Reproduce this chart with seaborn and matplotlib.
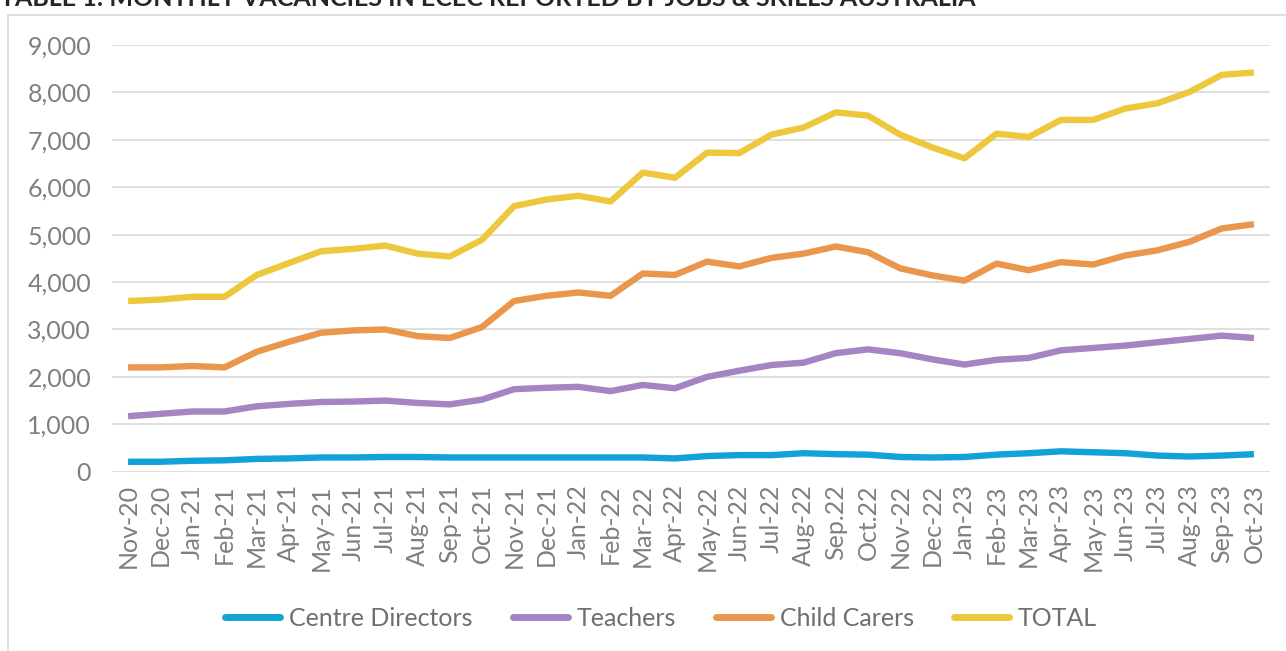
import matplotlib
matplotlib.use("Agg")
import matplotlib.pyplot as plt
from matplotlib.lines import Line2D
from matplotlib.patches import Rectangle
import seaborn as sns
import pandas as pd

# ---------------- data ----------------
months = ["Nov-20", "Dec-20", "Jan-21", "Feb-21", "Mar-21", "Apr-21", "May-21", "Jun-21",
          "Jul-21", "Aug-21", "Sep-21", "Oct-21", "Nov-21", "Dec-21", "Jan-22", "Feb-22",
          "Mar-22", "Apr-22", "May-22", "Jun-22", "Jul-22", "Aug-22", "Sep.22", "Oct.22",
          "Nov-22", "Dec-22", "Jan-23", "Feb-23", "Mar-23", "Apr-23", "May-23", "Jun-23",
          "Jul-23", "Aug-23", "Sep-23", "Oct-23"]

centre_directors = [210, 210, 230, 240, 270, 280, 300, 300, 310, 310, 300, 300,
                    300, 300, 300, 300, 300, 280, 330, 350, 350, 390, 370, 360,
                    310, 300, 310, 360, 390, 430, 410, 390, 340, 320, 340, 370]

teachers = [1170, 1220, 1270, 1270, 1380, 1430, 1470, 1480, 1500, 1450, 1420, 1520,
            1740, 1770, 1790, 1700, 1830, 1760, 2000, 2130, 2250, 2300, 2500, 2580,
            2500, 2370, 2260, 2360, 2400, 2560, 2610, 2660, 2730, 2800, 2870, 2820]

child_carers = [2200, 2200, 2230, 2200, 2530, 2740, 2930, 2980, 3000, 2860, 2820, 3050,
                3600, 3710, 3780, 3710, 4180, 4150, 4430, 4330, 4510, 4600, 4750, 4630,
                4290, 4140, 4030, 4390, 4250, 4420, 4370, 4560, 4670, 4850, 5130, 5220]

total = [3600, 3630, 3690, 3690, 4150, 4400, 4650, 4700, 4770, 4600, 4540, 4890,
         5600, 5740, 5820, 5700, 6310, 6200, 6730, 6720, 7110, 7260, 7580, 7510,
         7110, 6840, 6610, 7130, 7060, 7420, 7420, 7660, 7770, 8010, 8370, 8420]

series_names = ["Centre Directors", "Teachers", "Child Carers", "TOTAL"]
series_colors = ["#12a2d8", "#a484c2", "#ea964c", "#edc83d"]
y_ticks = [0, 1000, 2000, 3000, 4000, 5000, 6000, 7000, 8000, 9000]
title = "TABLE 1: MONTHLY VACANCIES IN ECEC REPORTED BY JOBS & SKILLS AUSTRALIA"

# ---------------- frame ----------------
idx = list(range(len(months)))
wide = pd.DataFrame({
    "idx": idx,
    "Centre Directors": centre_directors,
    "Teachers": teachers,
    "Child Carers": child_carers,
    "TOTAL": total,
})
long = wide.melt(id_vars="idx", var_name="series", value_name="value")

sns.set_theme(style="white")
plt.rcParams["font.family"] = ["Lato", "DejaVu Sans"]

W, H = 1286, 651
fig = plt.figure(figsize=(W / 100, H / 100), dpi=100)
fig.patch.set_facecolor("white")

left, right, top, bottom = 112, 1270, 45, 471.7
ax = fig.add_axes([left / W, 1 - bottom / H, (right - left) / W, (bottom - top) / H])

sns.lineplot(data=long, x="idx", y="value", hue="series", hue_order=series_names,
             palette=series_colors, linewidth=4.6, ax=ax, legend=False, sort=False)
for ln in ax.lines:
    ln.set_solid_capstyle("butt")
    ln.set_solid_joinstyle("round")

ax.set_xlim(-0.5, len(months) - 0.5)
ax.set_ylim(0, 9000)
ax.set_yticks(y_ticks)
ax.set_yticklabels([f"{v:,}" for v in y_ticks])
ax.set_xticks(idx)
ax.set_xticklabels(months, rotation=90)
ax.set_xlabel("")
ax.set_ylabel("")
ax.yaxis.grid(True, color="#dcdcdc", linewidth=1.3)
ax.xaxis.grid(False)
ax.set_axisbelow(True)
for s in ax.spines.values():
    s.set_visible(False)
ax.tick_params(axis="both", length=0, labelsize=18, labelcolor="#7f7f7f")
ax.tick_params(axis="y", pad=15)
ax.tick_params(axis="x", pad=9)

# legend
handles = [Line2D([0], [0], color=c, linewidth=5) for c in series_colors]
fig.legend(handles, series_names, loc="center", ncol=4,
           bbox_to_anchor=(661 / W, 1 - 618 / H), frameon=False,
           fontsize=18, labelcolor="#6f6f6f", handlelength=2.2,
           handletextpad=0.35, columnspacing=1.6)

# chart border
fig.patches.append(Rectangle((8 / W, -0.05), 1.0, 1.05 - 15 / H, transform=fig.transFigure,
                             fill=False, edgecolor="#d9d9d9", linewidth=1.2))

# title, cut off at the top edge as in the reference
fig.text(0.0, 1 - 6 / H, title, fontsize=18, fontweight="bold", color="#262626",
         ha="left", va="baseline")

fig.savefig("out.png", dpi=100)
